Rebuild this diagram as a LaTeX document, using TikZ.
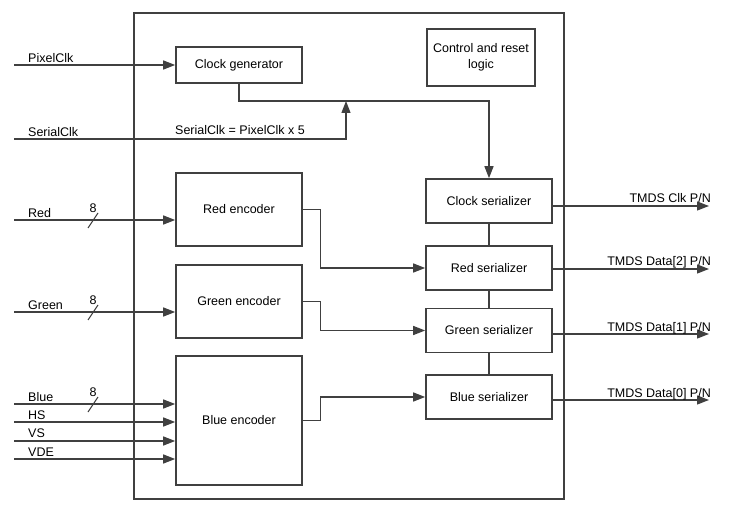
\documentclass[tikz,border=0pt]{standalone}
\usepackage{fontspec}
\setmainfont{Liberation Sans}
\usetikzlibrary{arrows.meta}
\definecolor{ln}{HTML}{404040}
\begin{document}
\begin{tikzpicture}[x=1pt,y=-1pt,
  font=\fontsize{12.5}{14.5}\selectfont,
  box/.style={draw=ln,line width=1.6pt,align=center,inner sep=0pt},
  wire/.style={draw=ln,line width=1.3pt},
  arr/.style={wire,-{Triangle[length=12pt,width=9pt]}},
  lbl/.style={inner sep=0pt,anchor=west},
  rlbl/.style={inner sep=0pt,anchor=east}]
\useasboundingbox (0,0) rectangle (732,516);
% main block
\draw[ln,line width=1.6pt] (134,13) rectangle (564,499);
% blocks
\node[box,minimum width=126pt,minimum height=36pt] (cg) at (239,65) {Clock generator};
\node[box,minimum width=108pt,minimum height=57pt] (crl) at (481,57.5) {Control and reset\\[2pt]logic};
\node[box,minimum width=126pt,minimum height=73pt] (re) at (239,209.5) {Red encoder};
\node[box,minimum width=126pt,minimum height=73pt] (ge) at (239,301.5) {Green encoder};
\node[box,minimum width=126pt,minimum height=129pt] (be) at (239,420.5) {Blue encoder};
\node[box,minimum width=126pt,minimum height=44pt] (cs) at (489,201) {Clock serializer};
\node[box,minimum width=126pt,minimum height=44pt] (rs) at (489,268) {Red serializer};
\node[box,minimum width=126pt,minimum height=44pt] (gs) at (489,330.5) {Green serializer};
\node[box,minimum width=126pt,minimum height=44pt] (bs) at (489,397) {Blue serializer};
% serializer chain
\draw[wire] (cs.south) -- (rs.north);
\draw[wire] (rs.south) -- (gs.north);
\draw[wire] (gs.south) -- (bs.north);
% clock inputs
\coordinate (pc) at (14,65);
\draw[arr] (pc) -- (cg.west);
\node[lbl] (pcl) at (28,58) {PixelClk};
\coordinate (sc) at (14,139);
\coordinate (sct) at (346,101);
\draw[arr] (sc) -| (sct);
\node[lbl] (scl) at (28,132) {SerialClk};
\node[lbl] (eq) at (175,130) {SerialClk = PixelClk x 5};
\coordinate (j) at (489,101);
\draw[arr] (cg.south) |- (j) -- (cs.north);
% colour inputs
\coordinate (ir) at (14,220);
\draw[arr] (ir) -- (ir -| re.west);
\node[lbl] (irl) at (28,213) {Red};
\draw[ln,line width=1pt] (88,228) -- (98,213);
\node[inner sep=0pt] (n8r) at (93,208) {8};
\coordinate (ig) at (14,312);
\draw[arr] (ig) -- (ig -| ge.west);
\node[lbl] (igl) at (28,305) {Green};
\draw[ln,line width=1pt] (88,320) -- (98,305);
\node[inner sep=0pt] (n8g) at (93,300) {8};
\coordinate (ib) at (14,404);
\draw[arr] (ib) -- (ib -| be.west);
\node[lbl] (ibl) at (28,397) {Blue};
\draw[ln,line width=1pt] (88,412) -- (98,397);
\node[inner sep=0pt] (n8b) at (93,392) {8};
\coordinate (ih) at (14,422);
\draw[arr] (ih) -- (ih -| be.west);
\node[lbl] (ihl) at (28,415.5) {HS};
\coordinate (iv) at (14,441);
\draw[arr] (iv) -- (iv -| be.west);
\node[lbl] (ivl) at (28,433.5) {VS};
\coordinate (id) at (14,459);
\draw[arr] (id) -- (id -| be.west);
\node[lbl] (idl) at (28,452) {VDE};
% encoder -> serializer
\draw[arr] (re.east) -- ++(18,0) |- (rs.west);
\draw[arr] (ge.east) -- ++(18,0) |- (gs.west);
\draw[arr] (be.east) -- ++(18,0) |- (bs.west);
% outputs
\coordinate (oc) at (709,206);
\draw[arr] (oc -| cs.east) -- (oc);
\node[rlbl] (ocl) at (711,198) {TMDS Clk P/N};
\coordinate (or) at (709,269);
\draw[arr] (or -| rs.east) -- (or);
\node[rlbl] (orl) at (711,262) {TMDS Data[2] P/N};
\coordinate (og) at (709,334);
\draw[arr] (og -| gs.east) -- (og);
\node[rlbl] (ogl) at (711,328) {TMDS Data[1] P/N};
\coordinate (ob) at (709,400);
\draw[arr] (ob -| bs.east) -- (ob);
\node[rlbl] (obl) at (711,394) {TMDS Data[0] P/N};
\end{tikzpicture}
\end{document}
